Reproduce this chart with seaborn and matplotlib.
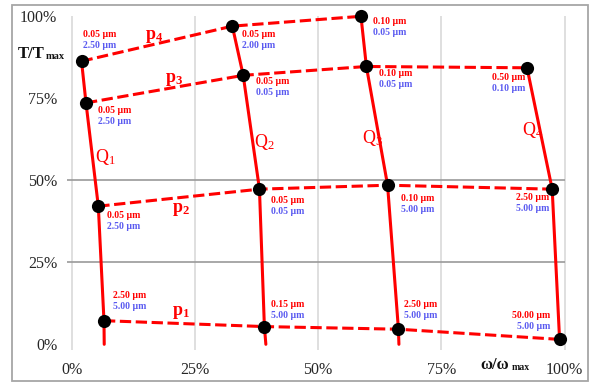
import matplotlib
matplotlib.use("Agg")
import matplotlib.pyplot as plt
from matplotlib.patches import Rectangle
import pandas as pd
import seaborn as sns

# Operating points along each torque curve Q1..Q4 (ordered p4, p3, p2, p1), in % of max
q1_w = [2.0, 2.9, 5.4, 6.55]
q1_t = [86.3, 73.6, 42.1, 7.2]
q2_w = [32.6, 34.8, 38.1, 39.1]
q2_t = [97.0, 82.0, 47.3, 5.4]
q3_w = [58.7, 59.8, 64.1, 66.3]
q3_t = [100.0, 84.7, 48.5, 4.6]
q4_w = [92.4, 97.5, 99.0]
q4_t = [84.3, 47.3, 1.5]

# where Q1..Q3 meet the 0 % floor
q_floor_w = [6.6, 39.4, 66.4]

levels_q123 = ["p4", "p3", "p2", "p1"]
levels_q4 = ["p3", "p2", "p1"]

# Two tolerance values printed next to each point (red first line, blue second line), in µm
q1_red = [0.05, 0.05, 0.05, 2.50]
q1_blue = [2.50, 2.50, 2.50, 5.00]
q2_red = [0.05, 0.05, 0.05, 0.15]
q2_blue = [2.00, 0.05, 0.05, 5.00]
q3_red = [0.10, 0.10, 0.10, 2.50]
q3_blue = [0.05, 0.05, 5.00, 5.00]
q4_red = [0.50, 2.50, 50.00]
q4_blue = [0.10, 5.00, 5.00]

x_ticks = [0, 25, 50, 75, 100]
y_ticks = [0, 25, 50, 75, 100]
tick_labels = ["0%", "25%", "50%", "75%", "100%"]

RED = "#ff0000"
BLUE = "#5a5af0"

rows = []
for name, ws, ts, lv, rv, bv in [
    ("Q1", q1_w, q1_t, levels_q123, q1_red, q1_blue),
    ("Q2", q2_w, q2_t, levels_q123, q2_red, q2_blue),
    ("Q3", q3_w, q3_t, levels_q123, q3_red, q3_blue),
    ("Q4", q4_w, q4_t, levels_q4, q4_red, q4_blue),
]:
    for w, t, l, r, b in zip(ws, ts, lv, rv, bv):
        rows.append(dict(curve=name, level=l, w=w, t=t, red=r, blue=b))
pts = pd.DataFrame(rows)

# Q curves: the points plus the floor end
q_rows = [dict(curve=r.curve, w=r.w, t=r.t) for r in pts.itertuples()]
for name, fw in zip(["Q1", "Q2", "Q3"], q_floor_w):
    q_rows.append(dict(curve=name, w=fw, t=0.0))
q_lines = pd.DataFrame(q_rows)

sns.set_style("white")
plt.rcParams["font.family"] = ["Liberation Serif", "DejaVu Serif"]
plt.rcParams["mathtext.fontset"] = "custom"
plt.rcParams["mathtext.rm"] = "Liberation Serif"
plt.rcParams["mathtext.it"] = "Liberation Serif:italic"
plt.rcParams["mathtext.bf"] = "Liberation Serif:bold"

W, H = 590, 382
fig = plt.figure(figsize=(W / 100, H / 100), dpi=100)

# axes box in pixels
left_px, right_px, top_px, bot_px = 67, 567, 14, 350
ax = fig.add_axes([left_px / W, 1 - bot_px / H, (right_px - left_px) / W, (bot_px - top_px) / H])
x0_px, x100_px = 71.7, 564.5
y0_px, y100_px = 344.3, 16.3
sx = (x100_px - x0_px) / 100
sy = (y0_px - y100_px) / 100
ax.set_xlim(-(x0_px - left_px) / sx, 100 + (right_px - x100_px) / sx)
ax.set_ylim(-(bot_px - y0_px) / sy, 100 + (y100_px - top_px) / sy)
ymin_ax = ax.get_ylim()[0]
xmin_ax = ax.get_xlim()[0]

for s in ax.spines.values():
    s.set_visible(False)

# grid
ax.vlines(x_ticks, ymin_ax, 100, color="#d9d9d9", lw=1.2, zorder=0)
ax.hlines([25, 50], xmin_ax, 100, color="#9a9a9a", lw=1.2, zorder=0)

ax.set_xticks(x_ticks)
ax.set_xticklabels(tick_labels)
ax.set_yticks(y_ticks)
ax.set_yticklabels(tick_labels)
ax.tick_params(axis="both", length=0, labelsize=11.5, colors="#262626")
ax.tick_params(axis="x", pad=9)
ax.tick_params(axis="y", pad=7)

# solid Q curves
sns.lineplot(data=q_lines, x="w", y="t", units="curve", estimator=None, sort=False,
             color=RED, lw=2.2, legend=False, ax=ax, zorder=2)

# dashed p curves
p_lines = pts.sort_values(["level", "w"])
sns.lineplot(data=p_lines, x="w", y="t", units="level", estimator=None, sort=False,
             color=RED, lw=2.2, linestyle=(0, (3.7, 1.5)), legend=False, ax=ax, zorder=2)

sns.scatterplot(data=pts, x="w", y="t", color="black", s=90, edgecolor="black",
                linewidth=0, legend=False, ax=ax, zorder=3, clip_on=False)
ax.set_xlabel("")
ax.set_ylabel("")

# label offsets (pixels) from each point: dx, dy of the first line
label_offsets = {
    ("Q1", "p4"): (1.3, 26.5), ("Q2", "p4"): (9.7, -8), ("Q3", "p4"): (11.7, -5),
    ("Q1", "p3"): (12.3, -7.3), ("Q2", "p3"): (12.7, -6), ("Q3", "p3"): (13, -7.4),
    ("Q4", "p3"): (-2, -9.6),
    ("Q1", "p2"): (9, -9.7), ("Q2", "p2"): (11.7, -11.7), ("Q3", "p2"): (13.3, -13.3),
    ("Q4", "p2"): (-2.7, -8.7),
    ("Q1", "p1"): (8.7, 24.7), ("Q2", "p1"): (6.7, 21.7), ("Q3", "p1"): (6, 24.3),
    ("Q4", "p1"): (-9.5, 23.5),
}
for r in pts.itertuples():
    dx, dy = label_offsets[(r.curve, r.level)]
    ha = "right" if r.curve == "Q4" else "left"
    ax.annotate(f"{r.red:.2f} μm", (r.w, r.t), xytext=(dx, dy), textcoords="offset pixels",
                ha=ha, va="center", color=RED, fontsize=7, fontweight="bold")
    ax.annotate(f"{r.blue:.2f} μm", (r.w, r.t), xytext=(dx, dy - 11), textcoords="offset pixels",
                ha=ha, va="center", color=BLUE, fontsize=7, fontweight="bold")

# curve names
curve_names = {"p4": (16.7, 93.9), "p3": (20.8, 80.8), "p2": (22.2, 41.2), "p1": (22.2, 9.8),
               "Q1": (6.8, 57.0), "Q2": (39.0, 61.6), "Q3": (61.0, 62.9), "Q4": (93.6, 65.2)}
for name, (x, y) in curve_names.items():
    body, sub = name[0], name[1]
    if body == "p":
        txt = r"$\mathbf{p_{%s}}$" % sub
    else:
        txt = r"$\mathrm{Q_{%s}}$" % sub
    ax.text(x, y, txt, color=RED, fontsize=13, ha="center", va="center")


def px_text(x, y, s, **kw):
    fig.text(x / W, 1 - y / H, s, **kw)


# axis titles
px_text(18, 58, "T/T", fontsize=12, fontweight="bold", va="baseline", ha="left", color="#111111")
px_text(45.5, 59, "max", fontsize=7.5, fontweight="bold", va="baseline", ha="left", color="#111111")
px_text(480, 369, "ω/ω", fontsize=12, fontweight="bold", va="baseline", ha="left", color="#111111")
px_text(512, 370, "max", fontsize=7, fontweight="bold", va="baseline", ha="left", color="#111111")

# outer frame
fig.patches.append(Rectangle((12 / W, 1 - 381 / H), (588 - 12) / W, (381 - 5) / H,
                             transform=fig.transFigure, fill=False, ec="#a6a6a6", lw=1.3))

fig.savefig("out.png", dpi=100)
